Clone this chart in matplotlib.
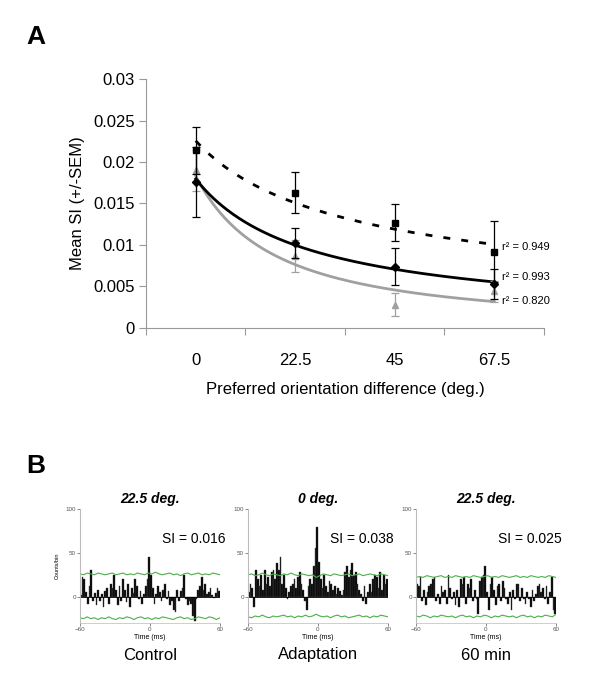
import numpy as np
import matplotlib
matplotlib.use("Agg")
import matplotlib.pyplot as plt

plt.rcParams["font.family"] = ["Liberation Sans", "DejaVu Sans"]

# ---- panel A data ----
orient_labels = ["0", "22.5", "45", "67.5"]
sq_mean = [0.0214, 0.0163, 0.0127, 0.0092]
sq_sem = [0.0028, 0.0025, 0.0022, 0.0037]
dia_mean = [0.0176, 0.0102, 0.0074, 0.0053]
dia_sem = [0.0042, 0.0018, 0.0022, 0.0018]
tri_mean = [0.0190, 0.0087, 0.0028, 0.0044]
tri_sem = [0.0025, 0.0019, 0.0014, 0.0013]
r2_labels = ["0.949", "0.993", "0.820"]

# ---- panel B data (1.5 ms bins, -60..60 ms) ----
titles_b = ["22.5 deg.", "0 deg.", "22.5 deg."]
si_labels = ["SI = 0.016", "SI = 0.038", "SI = 0.025"]
cond_labels = ["Control", "Adaptation", "60 min"]
hist_control = [2, 22, 20, 5, -8, 12, 30, -5, 4, -10, 8, -5, 3, -12, 6, 10, -8, 15, 10, 25,
                8, -10, 12, -5, 20, 8, -6, 15, -12, 10, 4, 20, 12, -3, 6, -8, 3, 12, 20, 45,
                25, 10, -8, 3, 12, 5, -5, 8, 14, -3, 6, -10, -5, -15, -17, 8, -5, 6, 10, 25,
                -3, -10, -5, -8, -22, -28, -3, 8, 12, 22, 8, 15, 3, 5, 10, 2, -2, 4, 10, 6]
hist_adapt = [5, 15, 10, -12, 30, 20, 12, 25, 8, 30, 15, 22, 12, 28, 30, 20, 38, 30, 45, 15,
              25, 10, -3, 5, 12, 15, 20, 10, 22, 28, 15, 8, -5, -15, 12, 20, 15, 35, 55, 80,
              40, 20, 10, 25, 12, 5, 18, 15, 8, 12, 3, 10, 6, 2, 8, 28, 35, 22, 30, 38,
              25, 28, 15, 8, 3, -5, 12, -8, 5, 15, 5, 20, 25, 22, 10, 28, 8, 25, 15, 20]
hist_60min = [15, 12, 22, -5, 8, -10, 5, 12, 15, 20, 22, -5, 3, -8, 12, 5, 8, -8, 25, 10,
              -3, 5, -10, 8, -12, 20, 15, 22, -8, 15, 10, 20, -5, 8, -3, -20, 18, 22, 25, 35,
              5, -15, 15, 22, 8, -10, 12, 15, -5, 18, 10, -3, -8, 5, -15, 8, -3, 15, 15, -5,
              10, -3, -8, 5, -3, -12, 8, -5, 3, 12, 15, 5, 10, -3, 12, -8, 5, 22, -15, -20]
upper_control = [26, 25, 27, 26, 25, 27, 26, 25, 26, 27, 25, 26, 27, 25, 26, 25, 27, 26, 25, 27,
                 26, 28, 26, 25, 26, 27, 25, 26, 24, 26, 27, 25, 26, 27, 25, 26, 25, 27, 26, 25]
lower_control = [-24, -25, -23, -25, -24, -26, -24, -25, -23, -25, -26, -24, -25, -23, -24, -26, -24, -23, -25, -24,
                 -26, -24, -25, -23, -24, -25, -26, -24, -23, -25, -24, -26, -25, -23, -24, -25, -23, -24, -26, -24]
upper_adapt = [25, 26, 24, 25, 27, 25, 24, 26, 25, 24, 26, 25, 27, 25, 24, 26, 25, 24, 25, 22,
               24, 26, 25, 24, 26, 25, 24, 25, 26, 24, 25, 26, 24, 25, 26, 25, 24, 26, 25, 24]
lower_adapt = [-23, -24, -22, -23, -21, -23, -24, -22, -23, -22, -21, -23, -22, -24, -22, -23, -21, -23, -22, -20,
               -22, -23, -22, -24, -22, -21, -23, -22, -24, -23, -22, -21, -23, -22, -24, -22, -23, -21, -22, -23]
upper_60min = [22, 23, 22, 24, 23, 22, 23, 24, 22, 23, 22, 24, 23, 22, 23, 22, 24, 23, 22, 23,
               24, 22, 23, 22, 24, 23, 22, 23, 24, 22, 23, 22, 24, 23, 22, 23, 22, 24, 23, 22]
lower_60min = [-22, -23, -21, -22, -24, -22, -23, -21, -22, -23, -22, -24, -22, -21, -23, -22, -24, -22, -23, -21,
               -22, -24, -22, -23, -21, -22, -23, -22, -24, -22, -21, -23, -22, -24, -22, -23, -21, -22, -23, -20]

GRAY = "#a0a0a0"
AXGRAY = "#999999"
GREEN = "#4cae4c"

fig = plt.figure(figsize=(6, 6.93), dpi=100)

# ================= panel A =================
ax = fig.add_axes([0.2433, 0.5267, 0.6633, 0.3593])
x = np.arange(len(orient_labels))
xs = np.linspace(0, 3, 200)


def power_fit(means):
    # power-law trendline fitted in category index (1..4)
    b, ln_a = np.polyfit(np.log(x + 1), np.log(means), 1)
    return np.exp(ln_a) * (xs + 1) ** b


ax.plot(xs, power_fit(sq_mean), color="black", lw=2, ls=(0, (2.5, 4)), zorder=3)
ax.plot(xs, power_fit(dia_mean), color="black", lw=2, zorder=3)
ax.plot(xs, power_fit(tri_mean), color=GRAY, lw=2, zorder=2)

ax.errorbar(x, tri_mean, yerr=tri_sem, fmt="^", color=GRAY, ms=5,
            capsize=3, elinewidth=0.9, capthick=0.9, zorder=4)
ax.errorbar(x, dia_mean, yerr=dia_sem, fmt="D", color="black", ms=4,
            capsize=3, elinewidth=0.9, capthick=0.9, zorder=5)
ax.errorbar(x, sq_mean, yerr=sq_sem, fmt="s", color="black", ms=5,
            capsize=3, elinewidth=0.9, capthick=0.9, zorder=6)

ax.set_xlim(-0.5, 3.5)
ax.set_ylim(0, 0.03)
ax.set_yticks([0, 0.005, 0.01, 0.015, 0.02, 0.025, 0.03])
ax.set_yticklabels(["0", "0.005", "0.01", "0.015", "0.02", "0.025", "0.03"])
ax.set_xticks(np.arange(-0.5, 4.0, 1.0))
ax.set_xticklabels([])
ax.set_xticks(x, minor=True)
ax.set_xticklabels(orient_labels, minor=True)
ax.tick_params(axis="x", which="major", length=5, color=AXGRAY)
ax.tick_params(axis="x", which="minor", length=0, labelsize=12, pad=18)
ax.tick_params(axis="y", length=5, color=AXGRAY, labelsize=12, pad=3)
for s in ["top", "right"]:
    ax.spines[s].set_visible(False)
for s in ["left", "bottom"]:
    ax.spines[s].set_color(AXGRAY)
ax.set_ylabel("Mean SI (+/-SEM)", fontsize=12, labelpad=6)
ax.set_xlabel("Preferred orientation difference (deg.)", fontsize=12, labelpad=10)

r2_y = [0.0097, 0.0062, 0.0033]
for lab, yy in zip(r2_labels, r2_y):
    ax.text(3.08, yy, "r\u00b2 = " + lab, fontsize=8, va="center", ha="left")

fig.text(26 / 600, 1 - 37 / 693, "A", fontsize=19, fontweight="bold", va="center")
fig.text(26 / 600, 1 - 466 / 693, "B", fontsize=19, fontweight="bold", va="center")

# ================= panel B =================
hists = [hist_control, hist_adapt, hist_60min]
uppers = [upper_control, upper_adapt, upper_60min]
lowers = [lower_control, lower_adapt, lower_60min]
lefts = [80, 248, 416]
bin_w = 1.5
for i in range(3):
    axb = fig.add_axes([lefts[i] / 600, 0.101, 140 / 600, 0.1645])
    vals = hists[i]
    centers = -60 + bin_w * (np.arange(len(vals)) + 0.5)
    axb.bar(centers, vals, width=bin_w, color="black", edgecolor="#444444", linewidth=0.3)
    axb.axhline(0, color="black", lw=0.6)
    gx = np.linspace(-60, 60, len(uppers[i]))
    axb.plot(gx, uppers[i], color=GREEN, lw=0.8)
    axb.plot(gx, lowers[i], color=GREEN, lw=0.8)
    axb.set_xlim(-60, 60)
    axb.set_ylim(-30, 100)
    axb.set_xticks([-60, 0, 60])
    axb.set_yticks([0, 50, 100])
    axb.tick_params(labelsize=4.5, length=2, width=0.5, pad=1, colors="#555555")
    for s in ["top", "right"]:
        axb.spines[s].set_visible(False)
    axb.spines["left"].set_color("#bbbbbb")
    axb.spines["bottom"].set_color("#bbbbbb")
    axb.spines["left"].set_linewidth(0.8)
    axb.spines["bottom"].set_linewidth(0.5)
    axb.set_xlabel("Time (ms)", fontsize=5, labelpad=1)
    if i == 0:
        axb.set_ylabel("Counts/bin", fontsize=4, labelpad=4)
    axb.text(0.5, 1.088, titles_b[i], transform=axb.transAxes, fontsize=10,
             fontweight="bold", fontstyle="italic", ha="center", va="center")
    axb.text(1.04, 0.737, si_labels[i], transform=axb.transAxes, fontsize=10,
             ha="right", va="center")
    fig.text((lefts[i] + 70) / 600, 1 - 655 / 693, cond_labels[i], fontsize=12,
             ha="center", va="center")

fig.savefig("out.png", dpi=100)
